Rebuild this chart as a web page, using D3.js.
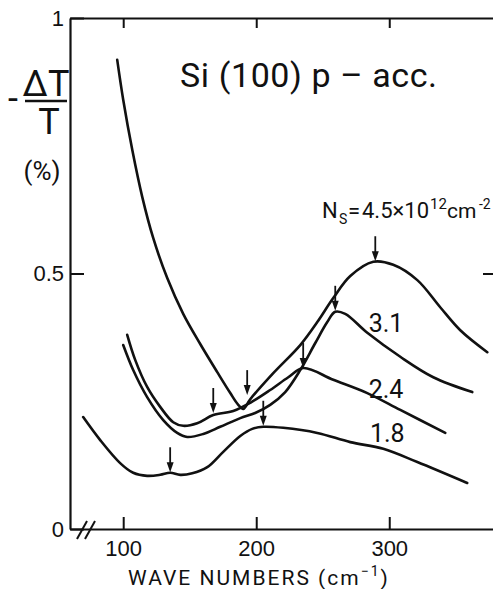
<!DOCTYPE html>
<html>
<head>
<meta charset="utf-8">
<script src="https://cdn.jsdelivr.net/npm/d3@7"></script>
<style>
    html, body { margin: 0; padding: 0; background: #fff; }
    svg { display: block; font-family: Roboto, "DejaVu Sans", sans-serif; }
</style>
</head>
<body>
<div id="chart"></div>
<script>
// ===========================
// Si(100) p-acc. — -ΔT/T vs wave numbers, four carrier densities
// ===========================

// ── Data (wave number cm⁻¹, -ΔT/T %) ─────────────────────────────────────────
const curveNs45 = [
    [95.5, 0.918], [100, 0.840], [106.8, 0.742], [114.3, 0.650], [122.6, 0.569],
    [133.1, 0.491], [145.1, 0.421], [157.9, 0.362], [170.7, 0.307], [180.5, 0.266],
    [186.5, 0.243], [190.2, 0.235], [195.5, 0.254], [212.8, 0.305], [233.1, 0.360],
    [245.9, 0.405], [257.9, 0.452], [270.7, 0.495], [288, 0.523], [303, 0.517],
    [321.1, 0.487], [338.3, 0.434], [353.4, 0.389], [373.7, 0.346]
];
const curveNs31 = [
    [100, 0.360], [107.5, 0.311], [118, 0.258], [130.1, 0.213], [140.6, 0.188],
    [148.1, 0.180], [160.2, 0.186], [172.9, 0.200], [188, 0.217], [199.2, 0.227],
    [210.5, 0.243], [221.8, 0.268], [233.1, 0.311], [244.4, 0.364], [253.4, 0.405],
    [259.4, 0.425], [266.9, 0.421], [283.5, 0.384], [308.3, 0.337], [333.1, 0.297],
    [362.4, 0.268]
];
const curveNs24 = [
    [103, 0.380], [109, 0.331], [118, 0.278], [127.8, 0.239], [137.6, 0.209],
    [145.1, 0.202], [155.6, 0.207], [167.7, 0.223], [182.7, 0.231], [195.5, 0.247],
    [210.5, 0.272], [224.1, 0.297], [235.3, 0.315], [257.9, 0.292], [283.5, 0.266],
    [308.3, 0.233], [342.1, 0.188]
];
const curveNs18 = [
    [69.9, 0.219], [82.7, 0.174], [97.7, 0.129], [107.5, 0.110], [118, 0.104],
    [127.8, 0.106], [135.3, 0.110], [142.9, 0.106], [151.9, 0.109], [163.2, 0.121],
    [175.2, 0.151], [188, 0.182], [197, 0.196], [205.3, 0.200], [220.3, 0.198],
    [245.9, 0.188], [270.7, 0.170], [295.5, 0.157], [321.1, 0.131], [358.6, 0.090]
];
const allCurves = [curveNs45, curveNs31, curveNs24, curveNs18];

// resonance markers: [wave number, value at arrow tip]
const arrowMarks = [
    [135.3, 0.111], [167.7, 0.227], [193.2, 0.262], [205.3, 0.202],
    [235.3, 0.315], [259.4, 0.427], [289.5, 0.524]
];

// density labels: [text, wave number, value at baseline]
const densityLabels = [
    ['3.1', 284.5, 0.385],
    ['2.4', 284.5, 0.257],
    ['1.8', 285.5, 0.170]
];

const xTicks = [100, 200, 300];
const yTicks = [0, 0.5, 1];
const yTickLabels = ['0', '0.5', '1'];

// ── Layout ───────────────────────────────────────────────────────────────────
const W = 493, H = 589;
const ink = '#111';

const x = d3.scaleLinear().domain([60, 381]).range([70, 497]);
const y = d3.scaleLinear().domain([0, 1]).range([529, 18]);

const svg = d3.select('#chart').append('svg')
    .attr('width', W)
    .attr('height', H);

// ── Axes (ticks point inward, frame on all sides) ───────────────────────────
function styleAxis(sel) {
    sel.select('.domain').attr('stroke', ink).attr('stroke-width', 2.2);
    sel.selectAll('.tick line').attr('stroke', ink).attr('stroke-width', 2);
    sel.selectAll('.tick text').attr('fill', ink);
}

svg.append('g')
    .attr('transform', `translate(0,${y(0)})`)
    .call(d3.axisBottom(x).tickValues(xTicks).tickSize(-12).tickSizeOuter(0).tickPadding(11))
    .call(styleAxis)
    .selectAll('text').style('font-size', '22px');

svg.append('g')
    .attr('transform', `translate(0,${y(1)})`)
    .call(d3.axisTop(x).tickValues(xTicks).tickSize(-10).tickSizeOuter(0).tickFormat(''))
    .call(styleAxis);

svg.append('g')
    .attr('transform', `translate(${x(60)},0)`)
    .call(d3.axisLeft(y).tickValues(yTicks).tickSize(-14).tickSizeOuter(0).tickPadding(6)
        .tickFormat((d, i) => yTickLabels[i]))
    .call(styleAxis)
    .selectAll('text').style('font-size', '22px');

svg.append('g')
    .attr('transform', `translate(${x(381)},0)`)
    .call(d3.axisRight(y).tickValues([0.5]).tickSize(-14).tickSizeOuter(0).tickFormat(''))
    .call(styleAxis);

// axis break on the wave-number axis
const bx = x(60);
[8, 16].forEach(off => {
    svg.append('line')
        .attr('x1', bx + off - 1).attr('y1', y(0) + 10)
        .attr('x2', bx + off + 9).attr('y2', y(0) - 8)
        .attr('stroke', ink).attr('stroke-width', 2);
});

// ── Curves ───────────────────────────────────────────────────────────────────
const line = d3.line()
    .x(d => x(d[0]))
    .y(d => y(d[1]))
    .curve(d3.curveCatmullRom.alpha(0.5));

svg.selectAll('.curve')
    .data(allCurves)
    .join('path')
    .attr('class', 'curve')
    .attr('d', line)
    .attr('fill', 'none')
    .attr('stroke', ink)
    .attr('stroke-width', 2.6)
    .attr('stroke-linecap', 'round')
    .attr('stroke-linejoin', 'round');

// ── Arrows ───────────────────────────────────────────────────────────────────
const arrows = svg.selectAll('.arrow')
    .data(arrowMarks)
    .join('g')
    .attr('class', 'arrow')
    .attr('transform', d => `translate(${x(d[0])},${y(d[1])})`);

arrows.append('line')
    .attr('x1', 0).attr('y1', -25)
    .attr('x2', 0).attr('y2', -6)
    .attr('stroke', ink).attr('stroke-width', 1.8);

arrows.append('path')
    .attr('d', 'M-3.5,-10 L3.5,-10 L0,0 Z')
    .attr('fill', ink);

// ── Labels ───────────────────────────────────────────────────────────────────
svg.selectAll('.dens')
    .data(densityLabels)
    .join('text')
    .attr('class', 'dens')
    .attr('x', d => x(d[1]))
    .attr('y', d => y(d[2]))
    .style('font-size', '25px')
    .attr('fill', ink)
    .text(d => d[0]);

// N_S = 4.5×10^12 cm^-2
const ns = svg.append('text')
    .attr('y', 218)
    .style('font-size', '22px')
    .attr('fill', ink);
ns.append('tspan').attr('x', 322).text('N');
ns.append('tspan').attr('x', 339).attr('dy', 6).style('font-size', '14px').text('S');
ns.append('tspan').attr('x', 348).attr('dy', -6).text('=');
ns.append('tspan').attr('x', 362).text('4.5×10');
ns.append('tspan').attr('x', 430).attr('dy', -9).style('font-size', '15px').text('12');
ns.append('tspan').attr('x', 447).attr('dy', 9).style('font-size', '21px').text('cm');
ns.append('tspan').attr('x', 479).attr('dy', -9).style('font-size', '14px').text('-2');

// title
svg.append('text')
    .attr('x', 180)
    .attr('y', 87)
    .attr('textLength', 257)
    .style('font-size', '34px')
    .attr('fill', ink)
    .text('Si (100) p – acc.');

// y label: -ΔT/T (%)
svg.append('text')
    .attr('x', 8).attr('y', 111)
    .style('font-size', '36px').attr('fill', ink)
    .text('-');
svg.append('text')
    .attr('x', 46).attr('y', 96)
    .attr('text-anchor', 'middle')
    .style('font-size', '36px').attr('fill', ink)
    .text('ΔT');
svg.append('line')
    .attr('x1', 25).attr('x2', 67)
    .attr('y1', 101).attr('y2', 101)
    .attr('stroke', ink).attr('stroke-width', 2.6);
svg.append('text')
    .attr('x', 49).attr('y', 134)
    .attr('text-anchor', 'middle')
    .style('font-size', '36px').attr('fill', ink)
    .text('T');
svg.append('text')
    .attr('x', 42).attr('y', 180)
    .attr('text-anchor', 'middle')
    .style('font-size', '26px').attr('fill', ink)
    .text('(%)');

// x label
const xl = svg.append('text')
    .attr('x', 128)
    .attr('y', 585)
    .style('font-size', '21px')
    .style('letter-spacing', '2px')
    .attr('fill', ink);
xl.append('tspan').text('WAVE NUMBERS (cm');
xl.append('tspan').attr('dy', -9).style('font-size', '14px').text('−1');
xl.append('tspan').attr('dy', 9).text(')');
</script>
</body>
</html>
